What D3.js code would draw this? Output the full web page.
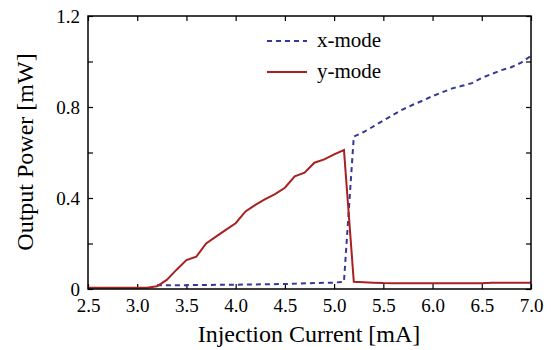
<!DOCTYPE html>
<html>
<head>
<meta charset="utf-8">
<script src="https://cdn.jsdelivr.net/npm/d3@7"></script>
<style>
  body { margin: 0; background: #fff; }
  svg text { font-family: "Liberation Serif", "Times New Roman", serif; fill: #000; }
</style>
</head>
<body>
<div id="chart"></div>
<script>
// injection current [mA] and output power [mW]
const yModeCurrent = [2.5, 2.6, 2.7, 2.8, 2.9, 3.0, 3.1, 3.2, 3.3, 3.4, 3.5, 3.6, 3.7, 3.8, 3.9, 4.0,
  4.1, 4.2, 4.3, 4.4, 4.5, 4.6, 4.7, 4.8, 4.9, 5.0, 5.1, 5.2, 5.3, 5.4, 5.5, 5.6, 5.8, 6.0, 6.2, 6.4, 6.5, 6.6, 6.8, 7.0];
const yModePower = [0.005, 0.005, 0.005, 0.005, 0.005, 0.005, 0.006, 0.012, 0.04, 0.085, 0.127, 0.142, 0.20, 0.23, 0.26, 0.289,
  0.341, 0.37, 0.395, 0.417, 0.445, 0.495, 0.511, 0.555, 0.57, 0.592, 0.611, 0.032, 0.03, 0.028, 0.026, 0.025, 0.025, 0.025, 0.025, 0.025, 0.025, 0.028, 0.028, 0.028];

const xModeCurrent = [3.2, 3.5, 4.0, 4.5, 4.8, 5.0, 5.1, 5.2, 5.3, 5.4, 5.5, 5.6, 5.7, 5.8, 5.9, 6.0,
  6.1, 6.2, 6.3, 6.4, 6.5, 6.6, 6.7, 6.8, 6.9, 7.0];
const xModePower = [0.016, 0.017, 0.019, 0.022, 0.026, 0.028, 0.032, 0.67, 0.69, 0.715, 0.74, 0.765, 0.79, 0.81, 0.828, 0.848,
  0.865, 0.882, 0.893, 0.905, 0.928, 0.945, 0.962, 0.975, 0.995, 1.025];

const xTicks = [2.5, 3.0, 3.5, 4.0, 4.5, 5.0, 5.5, 6.0, 6.5, 7.0];
const yTicks = [0, 0.2, 0.4, 0.6, 0.8, 1.0, 1.2];
const yTickLabels = ["0", "", "0.4", "", "0.8", "", "1.2"];

const width = 551, height = 350;
const margin = {top: 16, right: 20, bottom: 61, left: 88};
const innerW = width - margin.left - margin.right;
const innerH = height - margin.top - margin.bottom;

const svg = d3.select("#chart").append("svg")
  .attr("width", width)
  .attr("height", height);

const g = svg.append("g")
  .attr("transform", "translate(" + margin.left + "," + margin.top + ")");

const xScale = d3.scaleLinear().domain([2.5, 7.0]).range([0, innerW]);
const yScale = d3.scaleLinear().domain([0, 1.2]).range([innerH, 0]);

// inward ticks on all four sides
const tickLen = 5;
const fontFam = "Liberation Serif";

g.append("g")
  .attr("transform", "translate(0," + innerH + ")")
  .attr("font-family", fontFam)
  .call(d3.axisBottom(xScale).tickValues(xTicks).tickSizeInner(-tickLen).tickSizeOuter(0).tickPadding(10)
    .tickFormat(d3.format(".1f")))
  .call(a => a.select(".domain").remove())
  .selectAll("text").style("font-size", "19px").style("font-family", fontFam);

g.append("g")
  .call(d3.axisTop(xScale).tickValues(xTicks).tickSizeInner(-tickLen).tickSizeOuter(0).tickFormat(""))
  .call(a => a.select(".domain").remove());

g.append("g")
  .attr("font-family", fontFam)
  .call(d3.axisLeft(yScale).tickValues(yTicks).tickSizeInner(-tickLen).tickSizeOuter(0).tickPadding(8)
    .tickFormat((d, i) => yTickLabels[i]))
  .call(a => a.select(".domain").remove())
  .selectAll("text").style("font-size", "19px").style("font-family", fontFam);

g.append("g")
  .attr("transform", "translate(" + innerW + ",0)")
  .call(d3.axisRight(yScale).tickValues(yTicks).tickSizeInner(-tickLen).tickSizeOuter(0).tickFormat(""))
  .call(a => a.select(".domain").remove());

g.selectAll(".tick line").attr("stroke", "#000").attr("stroke-width", 1.2);

const line = d3.line()
  .x(d => xScale(d[0]))
  .y(d => yScale(d[1]));

g.append("path")
  .datum(xModeCurrent.map((c, i) => [c, xModePower[i]]))
  .attr("d", line)
  .attr("fill", "none")
  .attr("stroke", "#363896")
  .attr("stroke-width", 2)
  .attr("stroke-dasharray", "5,4");

g.append("path")
  .datum(yModeCurrent.map((c, i) => [c, yModePower[i]]))
  .attr("d", line)
  .attr("fill", "none")
  .attr("stroke", "#a8201f")
  .attr("stroke-width", 2);

// frame
g.append("rect")
  .attr("width", innerW)
  .attr("height", innerH)
  .attr("fill", "none")
  .attr("stroke", "#000")
  .attr("stroke-width", 1.5);

// legend
const legend = [
  {label: "x-mode", color: "#363896", dash: "5,4", y: 41},
  {label: "y-mode", color: "#a8201f", dash: null, y: 72}
];
legend.forEach(d => {
  svg.append("line")
    .attr("x1", 267).attr("x2", 307)
    .attr("y1", d.y).attr("y2", d.y)
    .attr("stroke", d.color)
    .attr("stroke-width", 2)
    .attr("stroke-dasharray", d.dash);
  svg.append("text")
    .attr("x", 317).attr("y", d.y + 6)
    .style("font-size", "21px")
    .text(d.label);
});

// axis titles
svg.append("text")
  .attr("x", 309).attr("y", 342)
  .attr("text-anchor", "middle")
  .style("font-size", "24px")
  .text("Injection Current [mA]");

svg.append("text")
  .attr("transform", "translate(33,152) rotate(-90)")
  .attr("text-anchor", "middle")
  .style("font-size", "24px")
  .text("Output Power [mW]");
</script>
</body>
</html>
